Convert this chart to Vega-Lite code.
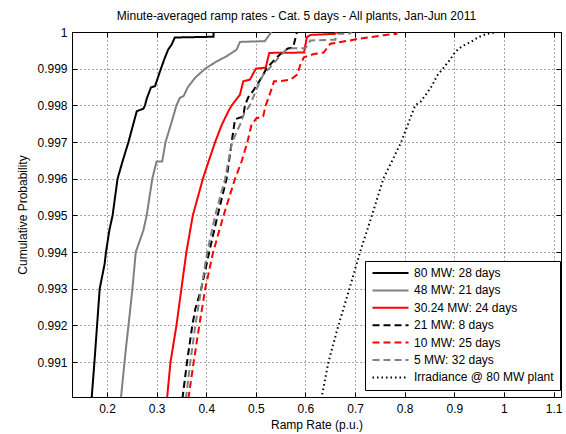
{
  "$schema": "https://vega.github.io/schema/vega-lite/v6.json",
  "autosize": "none",
  "width": 489,
  "height": 365,
  "padding": {"left": 72, "top": 32, "right": 5, "bottom": 37},
  "background": "white",
  "title": {"text": "Minute-averaged ramp rates - Cat. 5 days - All plants, Jan-Jun 2011", "fontSize": 12, "fontWeight": "normal", "font": "Liberation Sans", "color": "black", "anchor": "middle", "dx": -20, "offset": 3},
  "config": {
    "font": "Liberation Sans",
    "view": {"stroke": "black", "strokeWidth": 1},
    "axis": {"labelFontSize": 12, "titleFontSize": 12, "titleFontWeight": "normal", "labelColor": "black", "titleColor": "black", "domainColor": "black", "tickColor": "black", "gridColor": "#000000", "gridOpacity": 0.7, "gridDash": [1, 3], "gridWidth": 1, "tickSize": -5, "labelFlush": false, "labelOverlap": false},
    "legend": {"orient": "none", "legendX": 293, "legendY": 229, "strokeColor": "black", "fillColor": "white", "padding": 6, "labelFontSize": 12, "labelColor": "black", "rowPadding": 5.4, "labelLimit": 300}
  },
  "data": {"values": [
    {"s": "80 MW: 28 days", "x": 0.169, "y": 0.99},
    {"s": "80 MW: 28 days", "x": 0.1747, "y": 0.991},
    {"s": "80 MW: 28 days", "x": 0.18, "y": 0.992},
    {"s": "80 MW: 28 days", "x": 0.1853, "y": 0.993},
    {"s": "80 MW: 28 days", "x": 0.1953, "y": 0.99368},
    {"s": "80 MW: 28 days", "x": 0.198, "y": 0.994},
    {"s": "80 MW: 28 days", "x": 0.2047, "y": 0.99459},
    {"s": "80 MW: 28 days", "x": 0.2113, "y": 0.995},
    {"s": "80 MW: 28 days", "x": 0.2213, "y": 0.996},
    {"s": "80 MW: 28 days", "x": 0.2313, "y": 0.99647},
    {"s": "80 MW: 28 days", "x": 0.2433, "y": 0.997},
    {"s": "80 MW: 28 days", "x": 0.26, "y": 0.99784},
    {"s": "80 MW: 28 days", "x": 0.2733, "y": 0.99791},
    {"s": "80 MW: 28 days", "x": 0.2767, "y": 0.998},
    {"s": "80 MW: 28 days", "x": 0.28, "y": 0.99818},
    {"s": "80 MW: 28 days", "x": 0.2887, "y": 0.99849},
    {"s": "80 MW: 28 days", "x": 0.2967, "y": 0.99852},
    {"s": "80 MW: 28 days", "x": 0.3087, "y": 0.999},
    {"s": "80 MW: 28 days", "x": 0.3153, "y": 0.99925},
    {"s": "80 MW: 28 days", "x": 0.3233, "y": 0.99952},
    {"s": "80 MW: 28 days", "x": 0.33, "y": 0.99965},
    {"s": "80 MW: 28 days", "x": 0.3367, "y": 0.99985},
    {"s": "80 MW: 28 days", "x": 0.4147, "y": 0.99987},
    {"s": "80 MW: 28 days", "x": 0.4147, "y": 1.0},
    {"s": "48 MW: 21 days", "x": 0.228, "y": 0.99},
    {"s": "48 MW: 21 days", "x": 0.2353, "y": 0.991},
    {"s": "48 MW: 21 days", "x": 0.238, "y": 0.99135},
    {"s": "48 MW: 21 days", "x": 0.2433, "y": 0.992},
    {"s": "48 MW: 21 days", "x": 0.2513, "y": 0.993},
    {"s": "48 MW: 21 days", "x": 0.258, "y": 0.994},
    {"s": "48 MW: 21 days", "x": 0.2733, "y": 0.99459},
    {"s": "48 MW: 21 days", "x": 0.28, "y": 0.995},
    {"s": "48 MW: 21 days", "x": 0.2913, "y": 0.996},
    {"s": "48 MW: 21 days", "x": 0.3, "y": 0.99647},
    {"s": "48 MW: 21 days", "x": 0.3113, "y": 0.99647},
    {"s": "48 MW: 21 days", "x": 0.318, "y": 0.997},
    {"s": "48 MW: 21 days", "x": 0.33, "y": 0.99753},
    {"s": "48 MW: 21 days", "x": 0.34, "y": 0.998},
    {"s": "48 MW: 21 days", "x": 0.3467, "y": 0.9982},
    {"s": "48 MW: 21 days", "x": 0.3547, "y": 0.99826},
    {"s": "48 MW: 21 days", "x": 0.3627, "y": 0.99849},
    {"s": "48 MW: 21 days", "x": 0.378, "y": 0.99876},
    {"s": "48 MW: 21 days", "x": 0.398, "y": 0.999},
    {"s": "48 MW: 21 days", "x": 0.4213, "y": 0.9992},
    {"s": "48 MW: 21 days", "x": 0.4413, "y": 0.99934},
    {"s": "48 MW: 21 days", "x": 0.4613, "y": 0.99952},
    {"s": "48 MW: 21 days", "x": 0.468, "y": 0.99973},
    {"s": "48 MW: 21 days", "x": 0.518, "y": 0.99975},
    {"s": "48 MW: 21 days", "x": 0.5313, "y": 1.0},
    {"s": "30.24 MW: 24 days", "x": 0.321, "y": 0.99},
    {"s": "30.24 MW: 24 days", "x": 0.328, "y": 0.991},
    {"s": "30.24 MW: 24 days", "x": 0.34, "y": 0.992},
    {"s": "30.24 MW: 24 days", "x": 0.35, "y": 0.993},
    {"s": "30.24 MW: 24 days", "x": 0.36, "y": 0.994},
    {"s": "30.24 MW: 24 days", "x": 0.373, "y": 0.995},
    {"s": "30.24 MW: 24 days", "x": 0.3933, "y": 0.996},
    {"s": "30.24 MW: 24 days", "x": 0.4047, "y": 0.99647},
    {"s": "30.24 MW: 24 days", "x": 0.418, "y": 0.997},
    {"s": "30.24 MW: 24 days", "x": 0.4313, "y": 0.99747},
    {"s": "30.24 MW: 24 days", "x": 0.4447, "y": 0.99784},
    {"s": "30.24 MW: 24 days", "x": 0.4513, "y": 0.998},
    {"s": "30.24 MW: 24 days", "x": 0.468, "y": 0.99829},
    {"s": "30.24 MW: 24 days", "x": 0.4747, "y": 0.99866},
    {"s": "30.24 MW: 24 days", "x": 0.488, "y": 0.9987},
    {"s": "30.24 MW: 24 days", "x": 0.5, "y": 0.999},
    {"s": "30.24 MW: 24 days", "x": 0.52, "y": 0.99903},
    {"s": "30.24 MW: 24 days", "x": 0.527, "y": 0.99943},
    {"s": "30.24 MW: 24 days", "x": 0.597, "y": 0.99944},
    {"s": "30.24 MW: 24 days", "x": 0.603, "y": 0.99986},
    {"s": "30.24 MW: 24 days", "x": 0.61, "y": 0.99992},
    {"s": "30.24 MW: 24 days", "x": 0.66, "y": 0.99995},
    {"s": "30.24 MW: 24 days", "x": 0.662, "y": 1.0},
    {"s": "21 MW: 8 days", "x": 0.352, "y": 0.99},
    {"s": "21 MW: 8 days", "x": 0.3613, "y": 0.991},
    {"s": "21 MW: 8 days", "x": 0.372, "y": 0.992},
    {"s": "21 MW: 8 days", "x": 0.378, "y": 0.99245},
    {"s": "21 MW: 8 days", "x": 0.39, "y": 0.993},
    {"s": "21 MW: 8 days", "x": 0.406, "y": 0.994},
    {"s": "21 MW: 8 days", "x": 0.423, "y": 0.995},
    {"s": "21 MW: 8 days", "x": 0.441, "y": 0.996},
    {"s": "21 MW: 8 days", "x": 0.4513, "y": 0.997},
    {"s": "21 MW: 8 days", "x": 0.458, "y": 0.99762},
    {"s": "21 MW: 8 days", "x": 0.4747, "y": 0.9977},
    {"s": "21 MW: 8 days", "x": 0.478, "y": 0.998},
    {"s": "21 MW: 8 days", "x": 0.4847, "y": 0.99822},
    {"s": "21 MW: 8 days", "x": 0.4947, "y": 0.9984},
    {"s": "21 MW: 8 days", "x": 0.5113, "y": 0.99875},
    {"s": "21 MW: 8 days", "x": 0.5213, "y": 0.999},
    {"s": "21 MW: 8 days", "x": 0.5347, "y": 0.9992},
    {"s": "21 MW: 8 days", "x": 0.548, "y": 0.99938},
    {"s": "21 MW: 8 days", "x": 0.5647, "y": 0.99955},
    {"s": "21 MW: 8 days", "x": 0.575, "y": 0.99958},
    {"s": "21 MW: 8 days", "x": 0.583, "y": 1.0},
    {"s": "10 MW: 25 days", "x": 0.364, "y": 0.99},
    {"s": "10 MW: 25 days", "x": 0.3747, "y": 0.991},
    {"s": "10 MW: 25 days", "x": 0.386, "y": 0.992},
    {"s": "10 MW: 25 days", "x": 0.398, "y": 0.993},
    {"s": "10 MW: 25 days", "x": 0.414, "y": 0.994},
    {"s": "10 MW: 25 days", "x": 0.435, "y": 0.995},
    {"s": "10 MW: 25 days", "x": 0.458, "y": 0.996},
    {"s": "10 MW: 25 days", "x": 0.4713, "y": 0.99647},
    {"s": "10 MW: 25 days", "x": 0.483, "y": 0.997},
    {"s": "10 MW: 25 days", "x": 0.4913, "y": 0.99747},
    {"s": "10 MW: 25 days", "x": 0.5013, "y": 0.99765},
    {"s": "10 MW: 25 days", "x": 0.5147, "y": 0.9977},
    {"s": "10 MW: 25 days", "x": 0.52, "y": 0.998},
    {"s": "10 MW: 25 days", "x": 0.53, "y": 0.99838},
    {"s": "10 MW: 25 days", "x": 0.5367, "y": 0.99866},
    {"s": "10 MW: 25 days", "x": 0.55, "y": 0.99866},
    {"s": "10 MW: 25 days", "x": 0.57, "y": 0.9987},
    {"s": "10 MW: 25 days", "x": 0.5833, "y": 0.99884},
    {"s": "10 MW: 25 days", "x": 0.59, "y": 0.99912},
    {"s": "10 MW: 25 days", "x": 0.5967, "y": 0.99931},
    {"s": "10 MW: 25 days", "x": 0.6167, "y": 0.9994},
    {"s": "10 MW: 25 days", "x": 0.6367, "y": 0.99944},
    {"s": "10 MW: 25 days", "x": 0.65, "y": 0.99968},
    {"s": "10 MW: 25 days", "x": 0.69, "y": 0.99977},
    {"s": "10 MW: 25 days", "x": 0.7033, "y": 0.99981},
    {"s": "10 MW: 25 days", "x": 0.7567, "y": 0.99991},
    {"s": "10 MW: 25 days", "x": 0.7833, "y": 0.99995},
    {"s": "10 MW: 25 days", "x": 0.785, "y": 1.0},
    {"s": "5 MW: 32 days", "x": 0.359, "y": 0.99},
    {"s": "5 MW: 32 days", "x": 0.368, "y": 0.991},
    {"s": "5 MW: 32 days", "x": 0.378, "y": 0.992},
    {"s": "5 MW: 32 days", "x": 0.39, "y": 0.993},
    {"s": "5 MW: 32 days", "x": 0.402, "y": 0.994},
    {"s": "5 MW: 32 days", "x": 0.418, "y": 0.995},
    {"s": "5 MW: 32 days", "x": 0.438, "y": 0.996},
    {"s": "5 MW: 32 days", "x": 0.452, "y": 0.997},
    {"s": "5 MW: 32 days", "x": 0.468, "y": 0.99747},
    {"s": "5 MW: 32 days", "x": 0.476, "y": 0.99777},
    {"s": "5 MW: 32 days", "x": 0.488, "y": 0.998},
    {"s": "5 MW: 32 days", "x": 0.503, "y": 0.99849},
    {"s": "5 MW: 32 days", "x": 0.515, "y": 0.99884},
    {"s": "5 MW: 32 days", "x": 0.528, "y": 0.99902},
    {"s": "5 MW: 32 days", "x": 0.545, "y": 0.99929},
    {"s": "5 MW: 32 days", "x": 0.561, "y": 0.99952},
    {"s": "5 MW: 32 days", "x": 0.575, "y": 0.99956},
    {"s": "5 MW: 32 days", "x": 0.6, "y": 0.99956},
    {"s": "5 MW: 32 days", "x": 0.61, "y": 0.99977},
    {"s": "5 MW: 32 days", "x": 0.66, "y": 0.99979},
    {"s": "5 MW: 32 days", "x": 0.665, "y": 0.99995},
    {"s": "5 MW: 32 days", "x": 0.69, "y": 0.99996},
    {"s": "5 MW: 32 days", "x": 0.692, "y": 1.0},
    {"s": "Irradiance @ 80 MW plant", "x": 0.632, "y": 0.99},
    {"s": "Irradiance @ 80 MW plant", "x": 0.6463, "y": 0.991},
    {"s": "Irradiance @ 80 MW plant", "x": 0.6664, "y": 0.992},
    {"s": "Irradiance @ 80 MW plant", "x": 0.6886, "y": 0.993},
    {"s": "Irradiance @ 80 MW plant", "x": 0.71, "y": 0.994},
    {"s": "Irradiance @ 80 MW plant", "x": 0.734, "y": 0.995},
    {"s": "Irradiance @ 80 MW plant", "x": 0.757, "y": 0.996},
    {"s": "Irradiance @ 80 MW plant", "x": 0.793, "y": 0.997},
    {"s": "Irradiance @ 80 MW plant", "x": 0.821, "y": 0.998},
    {"s": "Irradiance @ 80 MW plant", "x": 0.832, "y": 0.9981},
    {"s": "Irradiance @ 80 MW plant", "x": 0.843, "y": 0.9983},
    {"s": "Irradiance @ 80 MW plant", "x": 0.8553, "y": 0.99854},
    {"s": "Irradiance @ 80 MW plant", "x": 0.8653, "y": 0.99881},
    {"s": "Irradiance @ 80 MW plant", "x": 0.8787, "y": 0.99903},
    {"s": "Irradiance @ 80 MW plant", "x": 0.892, "y": 0.99926},
    {"s": "Irradiance @ 80 MW plant", "x": 0.902, "y": 0.99946},
    {"s": "Irradiance @ 80 MW plant", "x": 0.9153, "y": 0.99961},
    {"s": "Irradiance @ 80 MW plant", "x": 0.932, "y": 0.99972},
    {"s": "Irradiance @ 80 MW plant", "x": 0.9487, "y": 0.99986},
    {"s": "Irradiance @ 80 MW plant", "x": 0.9653, "y": 0.99995},
    {"s": "Irradiance @ 80 MW plant", "x": 0.99, "y": 1.0}
  ]},
  "layer": [
    {
      "mark": {"type": "line", "clip": true, "strokeCap": "butt", "strokeJoin": "miter"},
      "encoding": {
        "x": {"field": "x", "type": "quantitative", "scale": {"domain": [0.1295, 1.115], "nice": false, "zero": false},
          "axis": {"title": "Ramp Rate (p.u.)", "values": [0.2, 0.3, 0.4, 0.5, 0.6, 0.7, 0.8, 0.9, 1.0, 1.1], "format": ".1~f", "grid": true, "labelPadding": 11, "titlePadding": 5}},
        "y": {"field": "y", "type": "quantitative", "scale": {"domain": [0.99005, 1.0], "nice": false, "zero": false},
          "axis": {"title": "Cumulative Probability", "values": [0.991, 0.992, 0.993, 0.994, 0.995, 0.996, 0.997, 0.998, 0.999, 1.0], "format": ".3~f", "grid": true, "labelPadding": 10, "titlePadding": 7}},
        "order": [{"field": "x", "type": "quantitative"}, {"field": "y", "type": "quantitative"}],
        "color": {"field": "s", "type": "nominal",
          "scale": {"domain": ["80 MW: 28 days", "48 MW: 21 days", "30.24 MW: 24 days", "21 MW: 8 days", "10 MW: 25 days", "5 MW: 32 days", "Irradiance @ 80 MW plant"],
                    "range": ["#000000", "#808080", "#ff0000", "#000000", "#ff0000", "#808080", "#000000"]},
          "legend": {"title": null, "symbolType": "M-1,0H7", "symbolSize": 81, "labelOffset": 31}},
        "strokeDash": {"field": "s", "type": "nominal",
          "scale": {"domain": ["80 MW: 28 days", "48 MW: 21 days", "30.24 MW: 24 days", "21 MW: 8 days", "10 MW: 25 days", "5 MW: 32 days", "Irradiance @ 80 MW plant"],
                    "range": [[1, 0], [1, 0], [1, 0], [7, 4], [7, 4], [7, 4], [1.5, 3]]},
          "legend": {"title": null, "symbolType": "M-1,0H7", "symbolSize": 81, "labelOffset": 31}},
        "strokeWidth": {"field": "s", "type": "nominal",
          "scale": {"domain": ["80 MW: 28 days", "48 MW: 21 days", "30.24 MW: 24 days", "21 MW: 8 days", "10 MW: 25 days", "5 MW: 32 days", "Irradiance @ 80 MW plant"],
                    "range": [2, 2, 2, 2, 2, 2, 1.5]},
          "legend": {"title": null, "symbolType": "M-1,0H7", "symbolSize": 81, "labelOffset": 31}}
      }
    },
    {
      "mark": {"type": "point", "opacity": 0},
      "encoding": {
        "x": {"field": "x", "type": "quantitative", "axis": {"orient": "top", "title": null, "labels": false, "grid": false, "values": [0.2, 0.3, 0.4, 0.5, 0.6, 0.7, 0.8, 0.9, 1.0, 1.1]}},
        "y": {"field": "y", "type": "quantitative", "axis": {"orient": "right", "title": null, "labels": false, "grid": false, "values": [0.991, 0.992, 0.993, 0.994, 0.995, 0.996, 0.997, 0.998, 0.999, 1.0]}}
      }
    }
  ],
  "resolve": {"axis": {"x": "independent", "y": "independent"}}
}
